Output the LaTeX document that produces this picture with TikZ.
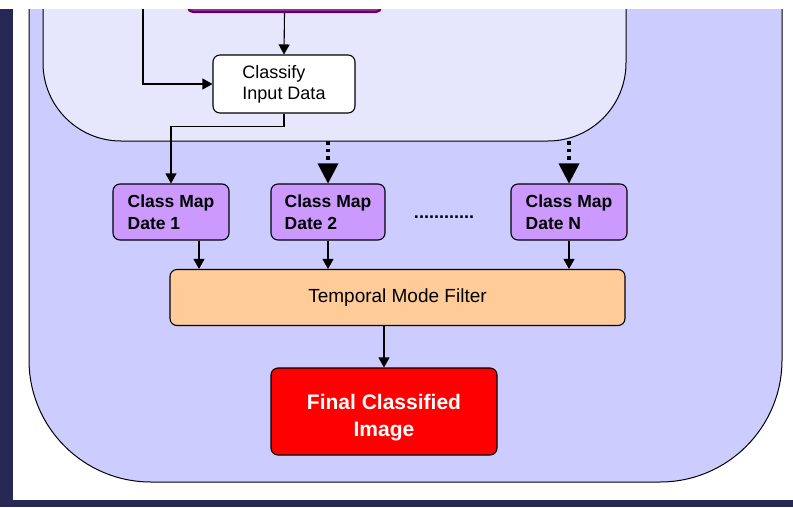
\documentclass[tikz,border=0pt]{standalone}
\usepackage{fontspec}
\setmainfont{Liberation Sans}
\usetikzlibrary{arrows.meta}

\definecolor{navy}{RGB}{40,40,85}
\definecolor{outerblue}{RGB}{204,204,255}
\definecolor{innerblue}{RGB}{230,230,252}
\definecolor{mapfill}{RGB}{204,153,255}
\definecolor{filterfill}{RGB}{255,204,153}
\definecolor{srcborder}{RGB}{102,0,102}
\definecolor{srcfill}{RGB}{153,51,153}

\tikzset{
  panel/.style={draw=black, line width=1pt},
  box/.style={draw=black, line width=1.1pt, rounded corners=7pt, inner sep=0pt},
  whitebox/.style={box, fill=white, minimum width=142pt, minimum height=58pt,
    align=left, font=\fontsize{18}{21}\selectfont},
  mapbox/.style={box, fill=mapfill, minimum width=116pt, minimum height=56pt,
    align=left, font=\bfseries\fontsize{17.5}{22}\selectfont},
  filterbox/.style={box, fill=filterfill, minimum width=455pt, minimum height=56pt,
    font=\fontsize{19}{21}\selectfont},
  finalbox/.style={box, fill=red, minimum width=226pt, minimum height=87pt,
    align=center, text=white, font=\bfseries\fontsize{21}{27}\selectfont},
  srcbox/.style={draw=srcborder, line width=2.2pt, fill=srcfill, rounded corners=5pt,
    minimum width=193pt, minimum height=44pt},
  arr/.style={draw=black, line width=1.1pt, -{Triangle[length=10pt,width=11pt]}},
  dotarr/.style={draw=black, line width=3.5pt, dash pattern=on 3.5pt off 4pt,
    -{Triangle[length=20pt,width=21pt,line width=0pt]}},
}

\begin{document}
\begin{tikzpicture}[x=1pt,y=-1pt]
\useasboundingbox (0,0) rectangle (793,507);
\fill[white] (0,0) rectangle (793,507);

% page frame
\fill[navy] (0,9) rectangle (13,507);
\fill[navy] (0,500) rectangle (793,507);

% outer and inner panels
\path[panel, fill=outerblue, rounded corners=122pt]
  (29,-60) -- (29,482) -- (782,482) -- (782,-60);
\path[panel, fill=innerblue, rounded corners=78pt]
  (43,-60) -- (43,141) -- (626,141) -- (626,-60);

% nodes
\node[srcbox] (src) at (284.5,-10) {};
\node[whitebox] (classify) at (284,84) {Classify\\Input Data};
\node[mapbox] (map1) at (171,212) {Class Map\\Date 1};
\node[mapbox, minimum width=114pt] (map2) at (328,212) {Class Map\\Date 2};
\node[mapbox] (mapN) at (569,212) {Class Map\\Date N};
\node[font=\bfseries\fontsize{18}{20}\selectfont, inner sep=0pt] (gap) at (444,217) {............};
\node[filterbox] (filter) at (397.5,297.5) {Temporal Mode Filter};
\node[finalbox] (final) at (384,411.5) {\rule{0pt}{27pt}Final Classified\\Image};

\coordinate (feed) at (143,0);
\coordinate (edge2) at (328,141);
\coordinate (edgeN) at (569,141);

% connectors
\draw[arr] (src.south) -- (classify.north);
\draw[arr] (feed) |- (classify.west);
\draw[arr] (classify.south) -- ++(0,13) -| (map1.north);
\draw[dotarr] (edge2) -- (map2.north);
\draw[dotarr] (edgeN) -- (mapN.north);
\draw[arr] ([xshift=28pt]map1.south) -- ([xshift=28pt]map1.south |- filter.north);
\draw[arr] (map2.south) -- (map2.south |- filter.north);
\draw[arr] (mapN.south) -- (mapN.south |- filter.north);
\draw[arr] (final.north |- filter.south) -- (final.north);

% top margin
\fill[white] (0,0) rectangle (793,9);
\end{tikzpicture}
\end{document}
